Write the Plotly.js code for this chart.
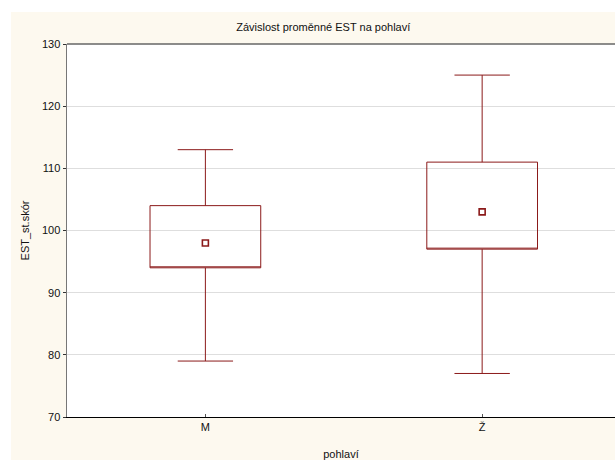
<!DOCTYPE html>
<html>
<head>
<meta charset="utf-8">
<script src="https://cdn.plot.ly/plotly-3.0.1.min.js"></script>
<style>
html,body{margin:0;padding:0;background:#ffffff;width:615px;height:460px;overflow:hidden;}
#chart{position:absolute;left:11px;top:12px;width:604px;height:448px;}
</style>
</head>
<body>
<div id="chart"></div>
<script>
const categories = ['M', 'Ž'];
const medians = [98, 103];
const q1 = [94, 97];
const q3 = [104, 111];
const minVals = [79, 77];
const maxVals = [113, 125];
const yTicks = [70, 80, 90, 100, 110, 120, 130];

const boxColor = '#8b1a1a';
const font = {family: 'Liberation Sans, Arial, sans-serif', size: 11, color: '#111'};

const boxTrace = {
  type: 'box',
  x: categories,
  q1: q1,
  median: q1, // median line hidden on box edge; median shown as marker
  q3: q3,
  lowerfence: minVals,
  upperfence: maxVals,
  width: 0.4,
  whiskerwidth: 0.5,
  fillcolor: 'rgba(255,255,255,0)',
  line: {color: boxColor, width: 1},
  boxpoints: false,
  hoverinfo: 'skip',
  showlegend: false
};

const medTrace = {
  type: 'scatter',
  mode: 'markers',
  x: categories,
  y: medians,
  marker: {symbol: 'square-open', size: 6, color: boxColor, line: {width: 1.6, color: boxColor}},
  showlegend: false,
  hoverinfo: 'skip'
};

const layout = {
  width: 604,
  height: 448,
  margin: {l: 56, r: 0, t: 32, b: 43, pad: 0},
  paper_bgcolor: '#fdf9ef',
  plot_bgcolor: '#ffffff',
  font: font,
  showlegend: false,
  title: {
    text: 'Závislost proměnné EST na pohlaví',
    font: {family: font.family, size: 11, color: '#111'},
    xref: 'container', x: 0.517, xanchor: 'center',
    yref: 'container', y: 1 - 15/448, yanchor: 'middle'
  },
  xaxis: {
    type: 'category',
    range: [-0.5, 1.48],
    showline: true, linecolor: '#000', linewidth: 1,
    ticks: 'inside', ticklen: 3, tickcolor: '#555',
    showgrid: false, zeroline: false,
    tickfont: font,
    title: {text: 'pohlaví', font: font, standoff: 19}
  },
  yaxis: {
    range: [70, 130],
    tickvals: yTicks,
    showline: true, linecolor: '#777', linewidth: 1.5,
    ticks: 'outside', ticklen: 3, tickcolor: '#333',
    showgrid: true, gridcolor: '#dedede', gridwidth: 1,
    zeroline: false,
    tickfont: font,
    title: {text: 'EST_st.skór', font: font, standoff: 10}
  },
  shapes: [
    {type: 'line', xref: 'paper', yref: 'paper', x0: 0, x1: 1, y0: 1, y1: 1,
     line: {color: '#666', width: 1.5}}
  ]
};

Plotly.newPlot('chart', [boxTrace, medTrace], layout, {staticPlot: true, displayModeBar: false});
</script>
</body>
</html>
